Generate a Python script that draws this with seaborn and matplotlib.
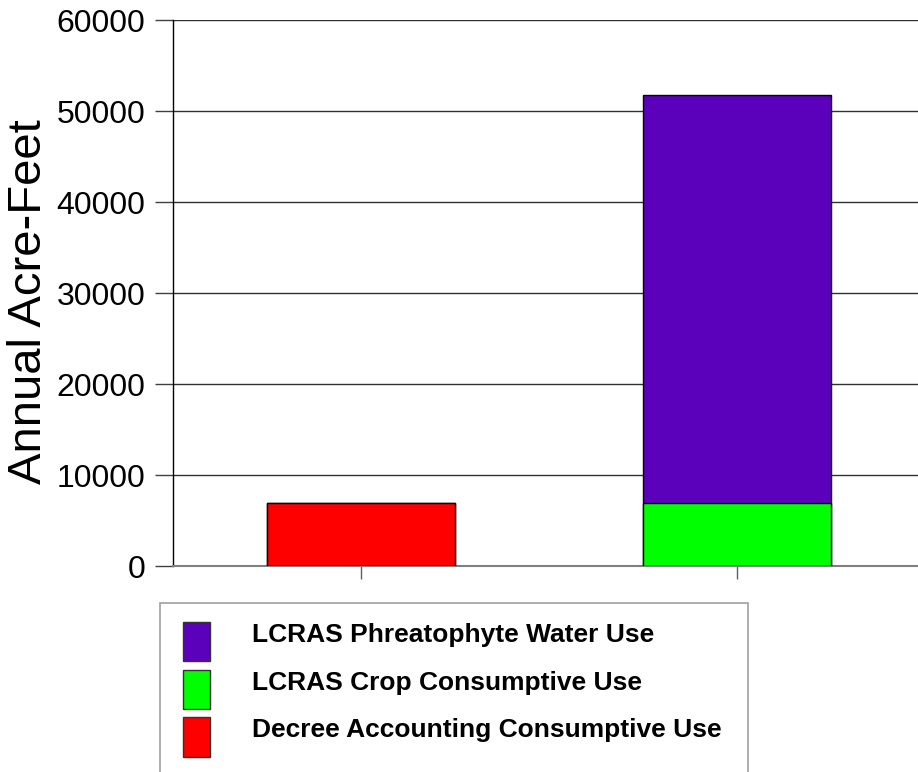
import matplotlib
matplotlib.use("Agg")
import matplotlib.pyplot as plt
from matplotlib.patches import Patch, Rectangle
from matplotlib.legend_handler import HandlerPatch
import pandas as pd
import seaborn as sns

# values (acre-feet per year)
categories = ["Decree Accounting", "LCRAS"]
decree_use = [6900, 0]
crop_use = [0, 6900]
phreat_use = [0, 44900]

legend_labels = ["LCRAS Phreatophyte Water Use",
                 "LCRAS Crop Consumptive Use",
                 "Decree Accounting Consumptive Use"]
y_ticks = [0, 10000, 20000, 30000, 40000, 50000, 60000]

purple = "#5b00bb"
green = "#00ff00"
red = "#ff0000"

sns.set_style("white")
plt.rcParams["font.family"] = ["Liberation Sans", "DejaVu Sans"]
plt.rcParams["text.color"] = "black"
plt.rcParams["axes.labelcolor"] = "black"
plt.rcParams["ytick.labelcolor"] = "black"

df = pd.DataFrame({"category": categories, "decree": decree_use,
                   "crop": crop_use, "phreat": phreat_use})
df["base"] = df["decree"] + df["crop"]
df["total"] = df["base"] + df["phreat"]

fig = plt.figure(figsize=(9.18, 7.72), dpi=100)
ax = fig.add_axes([173 / 918, 1 - 566 / 772, 1 - 173 / 918, (566 - 20) / 772])

# full stack height first, then the lower segment on top of it
sns.barplot(data=df, x="category", y="total", hue="category",
            palette=[red, purple], saturation=1, width=0.5,
            edgecolor="black", linewidth=1, legend=False, ax=ax, zorder=3)
sns.barplot(data=df, x="category", y="base", hue="category",
            palette=[red, green], saturation=1, width=0.5,
            edgecolor="black", linewidth=1, legend=False, ax=ax, zorder=3)

ax.set_xlim(-0.5, 1.48)
ax.set_ylim(0, 60000)
ax.set_yticks(y_ticks)
ax.set_yticklabels([str(v) for v in y_ticks], fontsize=23)
ax.set_xticks([0, 1])
ax.set_xticklabels(["", ""])
ax.yaxis.grid(True, color="#303030", linewidth=1, zorder=0)
ax.set_axisbelow(True)

ax.tick_params(axis="y", direction="out", length=13, width=1,
               color="#404040", pad=7, left=True)
ax.tick_params(axis="x", direction="out", length=9, width=1,
               color="#606060", bottom=True)

for side in ["top", "right"]:
    ax.spines[side].set_visible(False)
ax.spines["left"].set_color("black")
ax.spines["left"].set_linewidth(1)
ax.spines["bottom"].set_color("#808080")
ax.spines["bottom"].set_linewidth(1.5)

ax.set_xlabel("")
ax.set_ylabel("Annual Acre-Feet", fontsize=34)
ax.yaxis.set_label_coords(-0.164, 0.484)


# tall swatch that hangs below the text baseline
def swatch(legend, orig_handle, xdescent, ydescent, width, height, fontsize):
    return Rectangle((-xdescent, -0.72 * fontsize), width, 1.48 * fontsize)


# legend box runs off the bottom of the image
fig.patches.append(Rectangle((160 / 918, -0.05), (748 - 160) / 918,
                             1 - 603 / 772 + 0.05, transform=fig.transFigure,
                             facecolor="white", edgecolor="#a0a0a0",
                             linewidth=1.2))
handles = [Patch(facecolor=c, edgecolor="#333333") for c in [purple, green, red]]
fig.legend(handles, legend_labels, loc="upper left",
           bbox_to_anchor=(183 / 918, 1 - 623 / 772), frameon=False,
           prop={"weight": "bold", "size": 19},
           handler_map={Patch: HandlerPatch(patch_func=swatch)},
           handlelength=1.02, handleheight=0.7, handletextpad=1.6,
           labelspacing=0.9, borderpad=0, borderaxespad=0)

fig.savefig("out.png", dpi=100)
